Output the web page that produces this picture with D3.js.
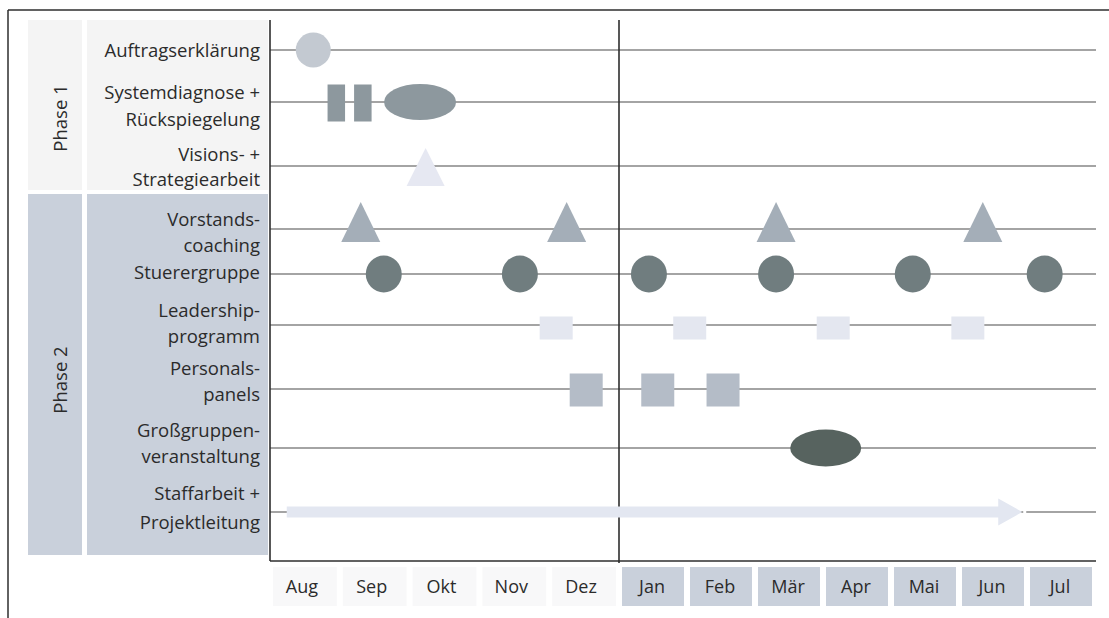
<!DOCTYPE html>
<html>
<head>
<meta charset="utf-8">
<script src="https://cdn.jsdelivr.net/npm/d3@7"></script>
<style>
  html, body { margin: 0; padding: 0; background: #fff; }
  svg { display: block; }
  text { font-family: "Open Sans", "Noto Sans", sans-serif; fill: #2b2b2b; }
</style>
</head>
<body>
<svg id="chart" width="1109" height="618"></svg>
<script>
// ---- data ---------------------------------------------------------------
const months = ["Aug", "Sep", "Okt", "Nov", "Dez", "Jan", "Feb", "Mär", "Apr", "Mai", "Jun", "Jul"];

const rowLabels = [
  ["Auftragserklärung"],
  ["Systemdiagnose +", "Rückspiegelung"],
  ["Visions- +", "Strategiearbeit"],
  ["Vorstands-", "coaching"],
  ["Stuerergruppe"],
  ["Leadership-", "programm"],
  ["Personals-", "panels"],
  ["Großgruppen-", "veranstaltung"],
  ["Staffarbeit +", "Projektleitung"]
];

const phases = ["Phase 1", "Phase 2"];

// event dates, in months counted from the start of August
const auftragDates = [0.62];
const diagnoseDates = [0.95, 1.33];
const rueckspiegelungDates = [2.15];
const visionDates = [2.23];
const coachingDates = [1.30, 4.25, 7.31, 10.35];
const steeringDates = [1.63, 3.58, 5.44, 7.31, 9.32, 11.26];
const leadershipDates = [4.10, 6.04, 8.15, 10.13];
const panelDates = [4.53, 5.57, 6.53];
const largeGroupDates = [8.04];
const staffSpan = [0.24, 10.93];

// ---- layout -------------------------------------------------------------
const svg = d3.select("#chart");
const plotLeft = 270, plotRight = 1096, plotTop = 20, plotBottom = 561;
const yearBreak = 5; // January

// Aug–Dez and Jan–Jul occupy slightly different widths
const x = d3.scaleLinear().domain([0, yearBreak, 12]).range([plotLeft, 619, 1095]);

// vertical position of each row's guide line
const rowLineY = [50, 102, 166, 229, 274, 325, 389, 448, 512];
const y = i => rowLineY[i];
// baselines of the label lines of each row
const labelBaselines = [[57], [99, 126], [161, 186], [226, 252], [279], [317, 343], [375, 401], [437, 463], [500, 529]];

const colors = {
  frame: "#2e2e2e",
  line: "#4a4a4a",
  phase1: "#f4f4f4",
  phase2: "#c9d0db",
  monthBox2: "#c9d0db",
  monthBox1: "#f8f8f9",
  auftrag: "#c3c9d1",
  diagnose: "#8d989e",
  vision: "#e6e8f2",
  coaching: "#a4aeb8",
  steering: "#707d7f",
  leadership: "#e4e7f0",
  panel: "#b4bcc7",
  largeGroup: "#57635f",
  staff: "#e3e7f1"
};

// ---- outer frame ----------------------------------------------------------
svg.append("line").attr("x1", 8).attr("x2", 1109).attr("y1", 10).attr("y2", 10)
  .attr("stroke", colors.frame).attr("stroke-width", 1.5);
svg.append("line").attr("x1", 8).attr("x2", 8).attr("y1", 10).attr("y2", 618)
  .attr("stroke", colors.frame).attr("stroke-width", 1.5);

// ---- phase bands ----------------------------------------------------------
const phaseBands = [
  { top: 20, bottom: 190, fill: colors.phase1, label: 118 },
  { top: 194, bottom: 555, fill: colors.phase2, label: 380 }
];
phaseBands.forEach((b, i) => {
  svg.append("rect").attr("x", 28).attr("y", b.top).attr("width", 54).attr("height", b.bottom - b.top)
    .attr("fill", b.fill);
  svg.append("rect").attr("x", 87).attr("y", b.top).attr("width", 181).attr("height", b.bottom - b.top)
    .attr("fill", b.fill);
  svg.append("text")
    .attr("transform", `translate(${67},${b.label}) rotate(-90)`)
    .attr("text-anchor", "middle")
    .attr("font-size", 18.5)
    .text(phases[i]);
});

// ---- row labels ----------------------------------------------------------
rowLabels.forEach((lines, i) => {
  lines.forEach((t, k) => {
    svg.append("text")
      .attr("x", 260)
      .attr("y", labelBaselines[i][k])
      .attr("text-anchor", "end")
      .attr("font-size", 18.5)
      .text(t);
  });
});

// ---- month axis ------------------------------------------------------------
const monthG = svg.append("g");
months.forEach((m, i) => {
  const x0 = x(i) + 3, x1 = x(i + 1) - 3;
  monthG.append("rect")
    .attr("x", x0).attr("y", 567).attr("width", x1 - x0).attr("height", 39)
    .attr("fill", i >= yearBreak ? colors.monthBox2 : colors.monthBox1);
  monthG.append("text")
    .attr("x", (x(i) + x(i + 1)) / 2 - (i < yearBreak ? 3 : 1))
    .attr("y", 593)
    .attr("text-anchor", "middle")
    .attr("font-size", 18)
    .text(m);
});

// ---- grid -----------------------------------------------------------------
rowLineY.forEach(ry => {
  svg.append("line")
    .attr("x1", plotLeft).attr("x2", plotRight).attr("y1", ry).attr("y2", ry)
    .attr("stroke", colors.line).attr("stroke-width", 1.1);
});
svg.append("line").attr("x1", plotLeft).attr("x2", plotRight).attr("y1", plotBottom).attr("y2", plotBottom)
  .attr("stroke", colors.frame).attr("stroke-width", 1.6);
svg.append("line").attr("x1", plotLeft).attr("x2", plotLeft).attr("y1", plotTop).attr("y2", plotBottom)
  .attr("stroke", colors.frame).attr("stroke-width", 1.6);
svg.append("line").attr("x1", x(yearBreak)).attr("x2", x(yearBreak)).attr("y1", plotTop).attr("y2", plotBottom + 2)
  .attr("stroke", colors.frame).attr("stroke-width", 1.6);

// ---- marks ----------------------------------------------------------------
const marks = svg.append("g");

function ovals(dates, row, rx, ry, fill) {
  marks.selectAll(null).data(dates).enter().append("ellipse")
    .attr("cx", d => x(d)).attr("cy", y(row)).attr("rx", rx).attr("ry", ry)
    .attr("fill", fill);
}
function boxes(dates, row, w, h, dy, fill) {
  marks.selectAll(null).data(dates).enter().append("rect")
    .attr("x", d => x(d) - w / 2).attr("y", y(row) + dy - h / 2)
    .attr("width", w).attr("height", h)
    .attr("fill", fill);
}
function triangles(dates, row, w, h, dy, fill) {
  marks.selectAll(null).data(dates).enter().append("path")
    .attr("d", d => {
      const cx = x(d), cy = y(row) + dy;
      return `M${cx},${cy - h / 2}L${cx + w / 2},${cy + h / 2}L${cx - w / 2},${cy + h / 2}Z`;
    })
    .attr("fill", fill);
}

ovals(auftragDates, 0, 17.5, 17.5, colors.auftrag);
boxes(diagnoseDates, 1, 17.5, 37, 1, colors.diagnose);
ovals(rueckspiegelungDates, 1, 36, 18, colors.diagnose);
triangles(visionDates, 2, 38, 38, 1, colors.vision);
triangles(coachingDates, 3, 39, 40, -7, colors.coaching);
ovals(steeringDates, 4, 18, 18.5, colors.steering);
boxes(leadershipDates, 5, 33, 23, 3, colors.leadership);
boxes(panelDates, 6, 33, 33, 1, colors.panel);
ovals(largeGroupDates, 7, 35.5, 18.5, colors.largeGroup);

// staff work arrow running through the whole project
const sx0 = x(staffSpan[0]), sx1 = x(staffSpan[1]), sy = y(8);
const headLen = 24, shaftH = 11, headH = 27;
marks.append("rect").attr("x", sx1 + 1).attr("y", sy - 3).attr("width", 3).attr("height", 6).attr("fill", "#fff");
marks.append("path")
  .attr("d", `M${sx0},${sy - shaftH / 2}L${sx1 - headLen},${sy - shaftH / 2}L${sx1 - headLen},${sy - headH / 2}` +
             `L${sx1},${sy}L${sx1 - headLen},${sy + headH / 2}L${sx1 - headLen},${sy + shaftH / 2}L${sx0},${sy + shaftH / 2}Z`)
  .attr("fill", colors.staff);
</script>
</body>
</html>
